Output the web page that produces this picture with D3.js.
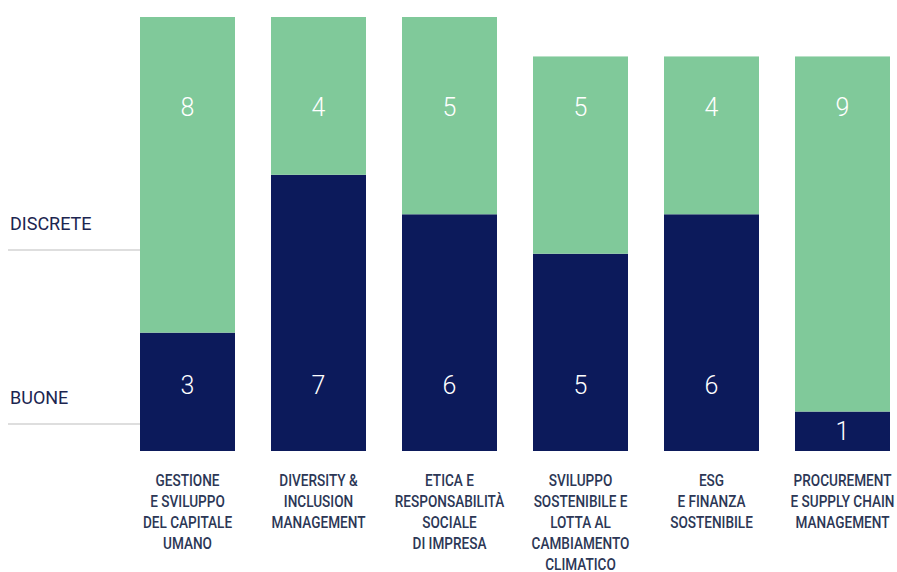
<!DOCTYPE html>
<html>
<head>
<meta charset="utf-8">
<script src="https://cdn.jsdelivr.net/npm/d3@7"></script>
<style>
  body { margin: 0; background: #fff; }
  svg { display: block; }
</style>
</head>
<body>
<div id="chart"></div>
<script>
var svgWidth = 897;
var svgHeight = 572;

// data
var categories = [
  ["GESTIONE", "E SVILUPPO", "DEL CAPITALE", "UMANO"],
  ["DIVERSITY &", "INCLUSION", "MANAGEMENT"],
  ["ETICA E", "RESPONSABILITÀ", "SOCIALE", "DI IMPRESA"],
  ["SVILUPPO", "SOSTENIBILE E", "LOTTA AL", "CAMBIAMENTO", "CLIMATICO"],
  ["ESG", "E FINANZA", "SOSTENIBILE"],
  ["PROCUREMENT", "E SUPPLY CHAIN", "MANAGEMENT"]
];
var buone = [3, 7, 6, 5, 6, 1];
var discrete = [8, 4, 5, 5, 4, 9];
var levels = ["DISCRETE", "BUONE"];

var green = "#80c99a";
var navy = "#0c1a5b";

var svg = d3.select("#chart")
  .append("svg")
  .attr("width", svgWidth)
  .attr("height", svgHeight);

var rows = categories.map(function(c, i) {
  return { key: i, buone: buone[i], discrete: discrete[i] };
});

var stack = d3.stack().keys(["buone", "discrete"]);
var series = stack(rows);

// band step 131, width 95 starting at x=140
var xScale = d3.scaleBand()
  .domain(d3.range(categories.length))
  .range([140, 140 + 131 * 5 + 95])
  .paddingInner(36 / 131)
  .paddingOuter(0);

var yScale = d3.scaleLinear()
  .domain([0, 11])
  .range([451, 17]);

var colors = { buone: navy, discrete: green };

var groups = svg.selectAll("g.series")
  .data(series)
  .enter()
  .append("g")
  .attr("class", "series")
  .attr("fill", d => colors[d.key]);

groups.selectAll("rect")
  .data(d => d)
  .enter()
  .append("rect")
  .attr("x", (d, i) => xScale(i))
  .attr("width", xScale.bandwidth())
  .attr("y", d => yScale(d[1]))
  .attr("height", d => yScale(d[0]) - yScale(d[1]));

// value labels
groups.selectAll("text")
  .data(d => d.map(function(p) { return { p: p, key: d.key }; }))
  .enter()
  .append("text")
  .attr("x", (d, i) => xScale(i) + xScale.bandwidth() / 2)
  .attr("y", function(d) {
    if (d.key === "discrete") return yScale(8.72);
    var h = yScale(d.p[0]) - yScale(d.p[1]);
    if (h > 100) return yScale(1.68);
    return (yScale(d.p[0]) + yScale(d.p[1])) / 2;
  })
  .attr("dy", "0.36em")
  .attr("text-anchor", "middle")
  .style("font-family", "Roboto, sans-serif")
  .style("font-weight", 300)
  .style("font-size", "25px")
  .attr("fill", "#fff")
  .text(d => d.p.data[d.key]);

// left level labels and lines
var levelY = [250, 424];
levels.forEach(function(l, i) {
  svg.append("line")
    .attr("x1", 8)
    .attr("x2", 140)
    .attr("y1", levelY[i])
    .attr("y2", levelY[i])
    .attr("stroke", "#bdbdbd")
    .attr("stroke-width", 1);
  svg.append("text")
    .attr("x", 10)
    .attr("y", levelY[i] - 20)
    .style("font-family", "Roboto, sans-serif")
    .style("font-size", "18px")
    .attr("fill", "#1c2550")
    .text(l);
});

// category labels
categories.forEach(function(lines, i) {
  var cx = xScale(i) + xScale.bandwidth() / 2;
  var t = svg.append("text")
    .attr("transform", `translate(${cx}, 486) scale(0.8, 1)`)
    .attr("text-anchor", "middle")
    .style("font-family", "Roboto, sans-serif")
    .style("font-size", "17px")
    .style("font-weight", 500)
    .attr("fill", "#2c3756");
  lines.forEach(function(s, j) {
    t.append("tspan")
      .attr("x", 0)
      .attr("y", j * 21)
      .text(s);
  });
});
</script>
</body>
</html>
